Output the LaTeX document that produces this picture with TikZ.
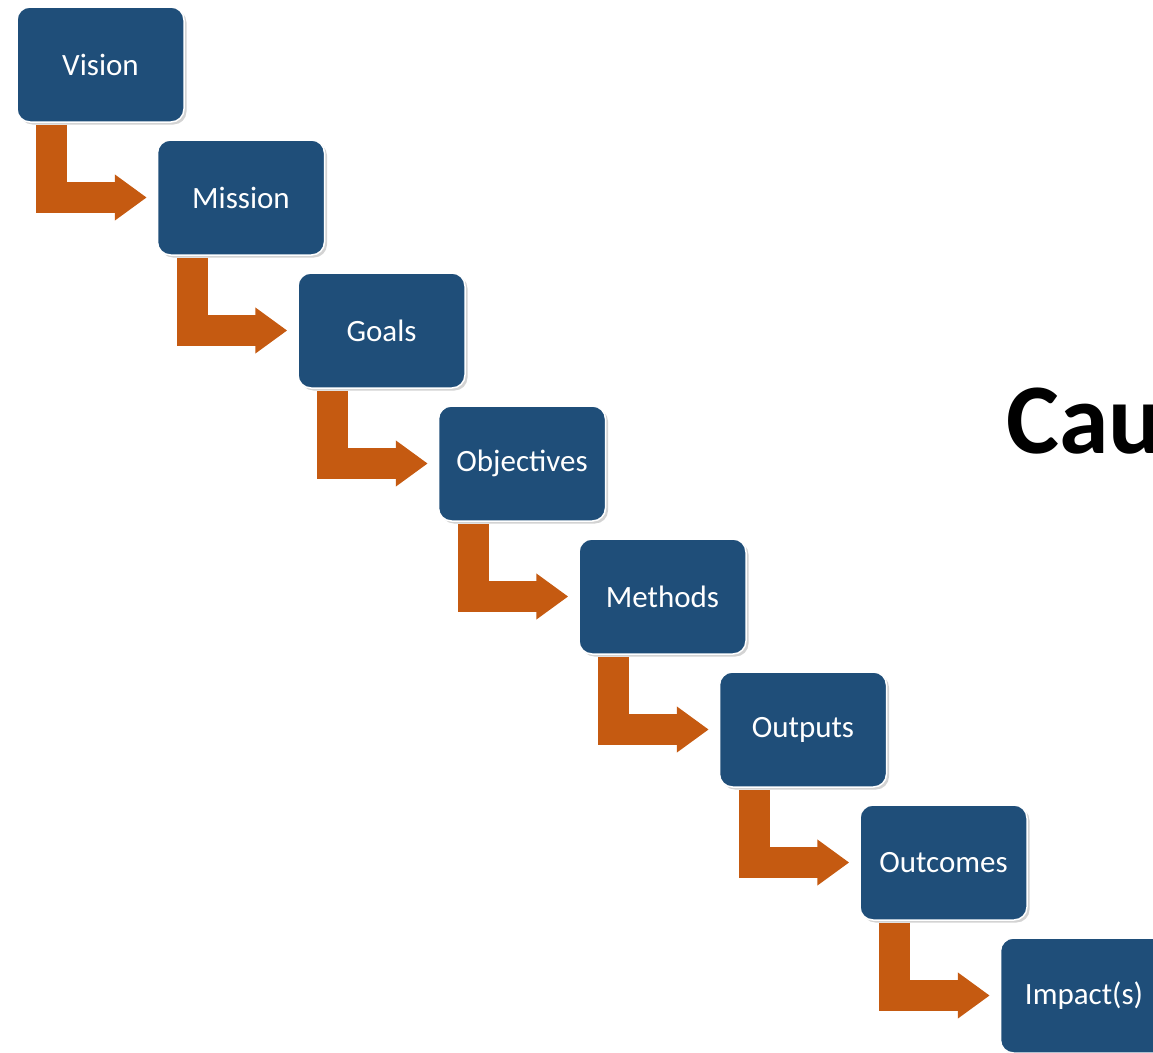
\documentclass[tikz,border=0pt]{standalone}
\usepackage{fontspec}
\setmainfont{Carlito}
\usetikzlibrary{arrows.meta,shadows}

\definecolor{stepblue}{HTML}{1F4E79}
\definecolor{steporange}{HTML}{C55A11}

\tikzset{
  stage/.style={draw=white,line width=1.5pt,fill=stepblue,rounded corners=13pt,
    minimum width=167pt,minimum height=115pt,text=white,
    font=\fontsize{31}{36}\selectfont,
    drop shadow={shadow xshift=2.5pt,shadow yshift=-2.5pt,opacity=0.35}},
  flow/.style={draw=steporange,line width=31pt,line join=miter,
    -{Triangle[length=32pt,width=44pt]}}
}

\begin{document}
\begin{tikzpicture}[x=1pt,y=-1pt]
  \useasboundingbox (0,0) rectangle (1153,1052);
  \node[stage] (S-1) at (100.5,64.5) {Vision};
  \node[stage] (S-2) at (241,197.5) {Mission};
  \node[stage] (S-3) at (381.5,330.5) {Goals};
  \node[stage] (S-4) at (522,463.5) {Objectives};
  \node[stage] (S-5) at (662.5,596.5) {Methods};
  \node[stage] (S-6) at (803,729.5) {Outputs};
  \node[stage] (S-7) at (943.5,862.5) {Outcomes};
  \node[stage] (S-8) at (1084,995.5) {Impact(s)};
  \draw[flow] ([xshift=35.5pt,yshift=-2pt]S-1.south west) |- ([xshift=-10pt]S-2.west);
  \draw[flow] ([xshift=35.5pt,yshift=-2pt]S-2.south west) |- ([xshift=-10pt]S-3.west);
  \draw[flow] ([xshift=35.5pt,yshift=-2pt]S-3.south west) |- ([xshift=-10pt]S-4.west);
  \draw[flow] ([xshift=35.5pt,yshift=-2pt]S-4.south west) |- ([xshift=-10pt]S-5.west);
  \draw[flow] ([xshift=35.5pt,yshift=-2pt]S-5.south west) |- ([xshift=-10pt]S-6.west);
  \draw[flow] ([xshift=35.5pt,yshift=-2pt]S-6.south west) |- ([xshift=-10pt]S-7.west);
  \draw[flow] ([xshift=35.5pt,yshift=-2pt]S-7.south west) |- ([xshift=-10pt]S-8.west);
  \node[anchor=base west,font=\fontsize{100}{110}\selectfont\bfseries,inner sep=0pt] (title) at (1006,453) {Cau};
\end{tikzpicture}
\end{document}
